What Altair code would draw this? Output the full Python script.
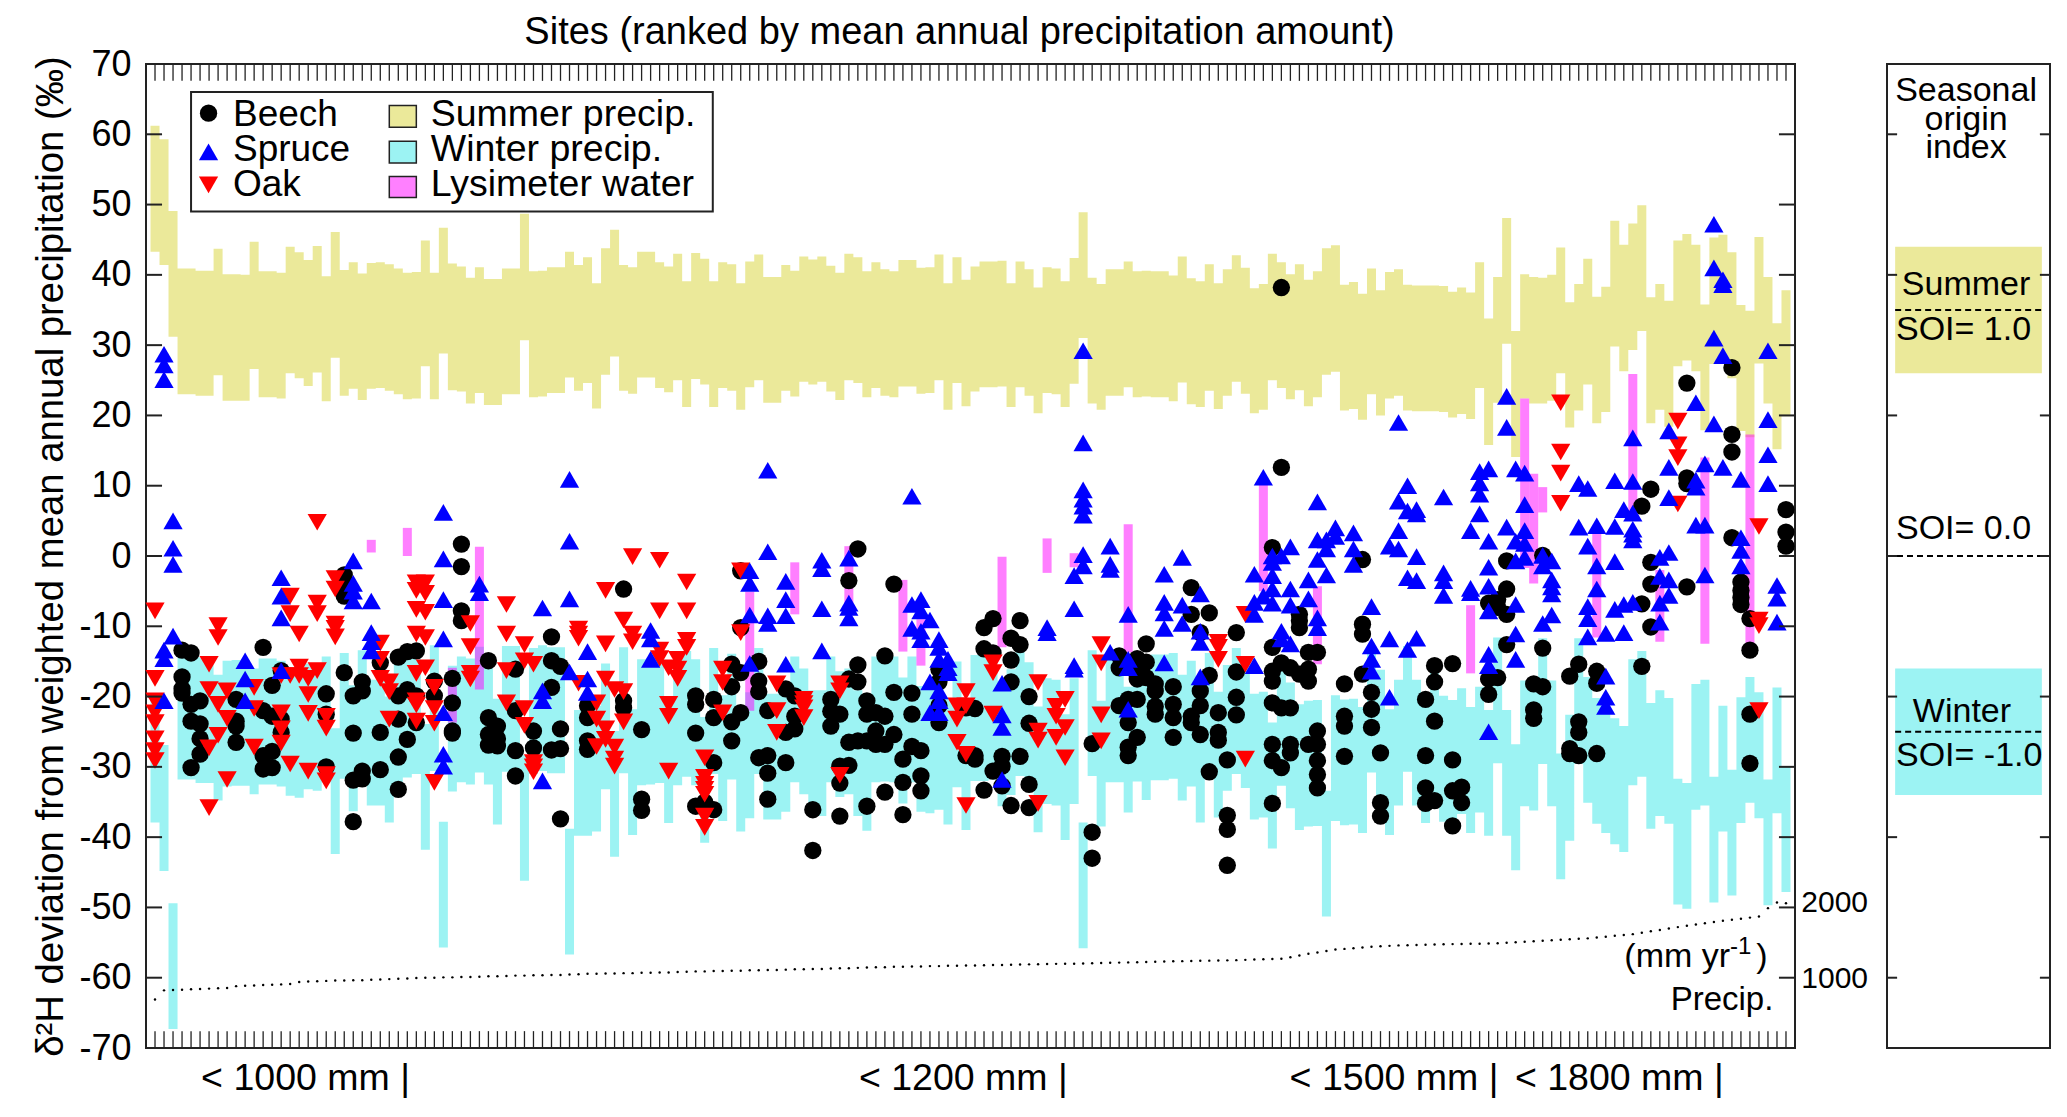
import altair as alt
import pandas as pd

FONT = "Liberation Sans"
SUMMER = "#ebe99a"
WINTER = "#9cf3f3"
LYSI = "#ff00ff"

summer_hi = [61.2,59.3,49.1,40.9,40.9,40.6,40.6,43.7,40.1,40.1,
 40,44.7,40.5,40.5,40.3,44,43.2,42.1,44.1,39.8,
 46.1,40.7,41.8,40.2,41.7,41.8,41.5,40.9,40.3,40.4,
 44.9,40.3,46.7,41.6,41.2,39.6,41.1,39.4,39.4,40.9,
 40.9,48.7,40.5,40.6,41.1,41.1,43.3,41.4,42.5,38.8,
 43.8,46.4,41.4,41.1,43.3,43.3,41.8,41.2,43,39.1,
 43.1,42.3,39.1,41.8,41.5,38.8,41.9,42.9,39.7,39.7,
 41.4,40.6,42.6,42.2,42.6,41.3,40.3,43,42.5,40.5,
 41.8,40.8,40.5,42.1,42.1,41,41.1,42.9,38.8,42.5,
 39.3,41.2,41.9,41.9,42,38.8,41.9,40.8,38.2,41.1,
 40.9,39.1,42.4,48.9,39.6,38.7,40.8,40.8,41.9,40.5,
 40.6,40.5,40.5,39.9,42.6,39.5,39.1,41.5,38.8,40.8,
 42.8,41,38.1,38.7,43,41.8,40.1,41.5,39.3,40.5,
 43.8,44.2,38.6,39,37.3,40.9,37.8,40.4,40.8,38.6,
 38.5,38.5,38.5,38.4,37.6,38.2,37.5,41.8,33.8,39.7,
 48.1,32,40.1,39.7,39.6,40,43.9,36.1,38.7,42.3,
 36.9,38.3,47.7,44.3,47.3,49.9,36.8,38.7,36.3,44.9,
 45.8,44.3,35.8,45.3,45.7,43.2,35.7,34.9,45.4,39.7,33.1,37.8]
summer_lo = [43.3,41.4,31.2,23,23,22.8,22.8,25.7,22.1,22.1,
 22.1,26.6,22.6,22.6,22.4,26,25.3,24.2,26.1,22,
 28.2,22.8,23.8,22.2,23.8,23.9,23.5,23,22.3,22.4,
 27,22.3,28.8,23.6,23.4,21.7,23.2,21.5,21.5,23,
 23,30.7,22.6,22.7,23.2,23.2,25.4,23.5,24.6,21,
 25.8,28.4,23.5,23.1,25.4,25.4,23.9,23.3,25,21.2,
 25.2,24.4,21.2,23.9,23.5,20.8,24,25,21.8,21.8,
 23.5,22.7,24.8,24.4,24.8,23.4,22.2,25,24.6,22.6,
 23.9,22.8,22.6,24.1,24.1,23.1,23.2,25,20.8,24.6,
 21.3,23.4,24,24,24.1,21.2,24,22.8,20.3,23.2,
 23,21.2,24.5,31,21.7,20.8,22.8,22.8,24,22.6,
 22.7,22.6,22.6,22,24.7,21.6,21.2,23.5,20.9,22.8,
 24.8,23.1,20.3,20.8,25,23.9,22.3,23.6,21.3,22.6,
 25.8,26.2,20.7,20.9,19.4,23,20,22.4,22.8,20.7,
 20.6,20.6,20.6,20.5,19.7,20.2,19.5,23.9,15.8,21.8,
 30.2,14.1,22.4,21.7,21.7,22.1,26,18.3,20.7,24.4,
 18.9,20.5,29.8,26.3,29.3,32,18.9,20.8,18.4,27,
 27.8,26.3,17.9,27.3,27.8,25.3,17.8,16.9,27.4,21.7,15.2,19.9]
winter_hi = [-20,-26.9,-49.4,-13.9,-13.9,-14.4,-14.4,-16.9,-14.9,-14.8,
 -14.8,-16,-14.6,-14.6,-14.9,-16.2,-16.5,-15.3,-15.5,-14.3,
 -24.5,-13.8,-18.4,-13.4,-17.6,-17.6,-20,-14.4,-13.6,-13.1,
 -23.9,-12.7,-37.8,-15.6,-14.3,-14.6,-12.9,-14.6,-20.3,-12.8,
 -12.8,-28.3,-13.1,-12.7,-13,-13,-38.8,-21.9,-21.9,-21.3,
 -15.3,-24.9,-13,-21.8,-14.7,-14.6,-14.4,-20.1,-14.7,-13.5,
 -14.7,-22.9,-13.1,-19.8,-13.9,-21.3,-19.4,-13.1,-19.6,-19.6,
 -18.5,-14.3,-16,-19.1,-19.1,-14.3,-16.4,-16,-19.1,-21.2,
 -14.3,-14.2,-14.3,-17.3,-14.3,-18.5,-18.7,-18.2,-20.3,-15,
 -21.1,-14.1,-14.1,-13.9,-17.7,-16.1,-13.4,-15.1,-21.4,-17.4,
 -17.6,-22.5,-17.4,-37.9,-13.4,-20.6,-14.3,-14.3,-18.6,-14.2,
 -16.8,-14,-14,-13.8,-16.9,-14.9,-20,-13.8,-19.3,-15.5,
 -13.1,-15.1,-19.6,-19.3,-23.7,-14.8,-18,-21.1,-20.6,-20.5,
 -33.4,-19.8,-20.4,-20.3,-21.5,-12.9,-16.2,-21.8,-17.6,-12.8,
 -17.6,-20.1,-16,-19.9,-20.5,-18.8,-21.5,-18.6,-21.9,-11.6,
 -21.9,-26.8,-17.7,-18.3,-11.7,-17.7,-28.1,-22.6,-11.7,-17.2,
 -20.2,-21.5,-23.1,-24.2,-14.7,-13.5,-20.9,-19.1,-20.2,-31.7,
 -32.3,-18.2,-17.6,-31.4,-21.3,-30.4,-20.1,-17.2,-19.4,-31.8,-18.7,-29.9]
winter_lo = [-37.9,-44.8,-67.3,-31.8,-31.8,-32.3,-32.3,-34.8,-32.8,-32.7,
 -32.7,-33.9,-32.5,-32.5,-32.8,-34.1,-34.4,-33.2,-33.4,-32.2,
 -42.4,-31.7,-36.3,-31.3,-35.5,-35.5,-37.9,-32.3,-31.5,-31,
 -41.8,-30.6,-55.7,-33.5,-32.2,-32.5,-30.8,-32.5,-38.2,-30.7,
 -30.7,-46.2,-31,-30.6,-30.9,-30.9,-56.7,-39.8,-39.8,-39.2,
 -33.2,-42.8,-30.9,-39.7,-32.6,-32.5,-32.3,-38,-32.6,-31.4,
 -32.6,-40.8,-31,-37.7,-31.8,-39.2,-37.3,-31,-37.5,-37.5,
 -36.4,-32.2,-33.9,-37,-37,-32.2,-34.3,-33.9,-37,-39.1,
 -32.2,-32.1,-32.2,-35.2,-32.2,-36.4,-36.6,-36.1,-38.2,-32.9,
 -39,-32,-32,-31.8,-35.6,-34,-31.3,-33,-39.3,-35.3,
 -35.5,-40.4,-35.3,-55.8,-31.3,-38.5,-32.2,-32.2,-36.5,-32.1,
 -34.7,-31.9,-31.9,-31.7,-34.8,-32.8,-37.9,-31.7,-37.2,-33.4,
 -31,-33,-37.5,-37.2,-41.6,-32.7,-35.9,-39,-38.5,-38.4,
 -51.3,-37.7,-38.3,-38.2,-39.4,-30.8,-34.1,-39.7,-35.5,-30.7,
 -35.5,-38,-33.9,-37.8,-38.4,-36.7,-39.4,-36.5,-39.8,-29.5,
 -39.8,-44.7,-35.6,-36.2,-29.6,-35.6,-46,-40.5,-29.6,-35.1,
 -38.1,-39.4,-41,-42.1,-32.6,-31.4,-38.8,-37,-38.1,-49.6,
 -50.2,-36.1,-35.5,-49.3,-39.2,-48.3,-38,-35.1,-37.3,-49.7,-36.6,-47.8]
precip_mm = [690,820,825,830,835,840,845,850,855,880,
 885,890,895,900,905,910,940,945,950,955,
 960,960,965,965,970,975,980,985,990,995,
 1000,1000,1005,1005,1010,1010,1015,1020,1020,1025,
 1030,1030,1035,1035,1040,1040,1045,1050,1055,1055,
 1060,1060,1065,1065,1070,1070,1075,1075,1080,1085,
 1090,1090,1095,1095,1100,1100,1105,1105,1110,1110,
 1115,1120,1120,1125,1125,1130,1135,1135,1140,1145,
 1150,1150,1155,1155,1160,1160,1165,1165,1170,1170,
 1175,1175,1178,1180,1182,1185,1187,1190,1192,1195,
 1197,1198,1200,1203,1206,1209,1212,1215,1218,1221,
 1224,1227,1230,1233,1236,1239,1241,1243,1245,1247,
 1250,1254,1258,1262,1266,1270,1290,1315,1340,1360,
 1380,1400,1410,1420,1430,1440,1447,1453,1460,1463,
 1466,1469,1472,1475,1478,1480,1482,1484,1486,1490,
 1497,1504,1511,1518,1525,1532,1539,1546,1553,1560,
 1572,1584,1596,1608,1620,1640,1660,1680,1700,1720,
 1738,1756,1774,1792,1810,1825,1840,1855,1870,1990,2070,2060]

lysi_site = [25,29,34,37,67,72,78,84,86,95,100,103,109,124,130,147,153,154,155,161,165,168,173,178]
lysi_hi = [2.3,4,-15.9,1.3,-5.1,-0.9,1.4,-3.4,-9,-0.1,2.5,0.4,4.5,10.2,-4.3,-7,22.4,11.7,9.8,3.3,25.9,-2,14,17.3]
lysi_lo = [0.5,0,-23.7,-19,-22,-8.3,-6.8,-13.6,-15.6,-13,-2.4,-1.6,-13.7,-5,-15.4,-16.7,-1.7,-3.9,6.2,-11.6,6.3,-12.2,-12.5,-12.6]

beech = {4:[-13.4,-17.2,-18.9,-19.5],5:[-13.8,-21.1,-23.5,-30.1],6:[-20.6,-23.9,-26,-28.2],
10:[-20.4,-23.5,-24.2,-26.5],13:[-13,-22,-28.4,-30.3],14:[-18.4,-22.8,-27.8,-30.1],15:[-16.3,-23.2,-25.1],
20:[-19.6,-22.5,-30],22:[-2.7,-3.8,-5.7,-16.6],23:[-19.9,-25.2,-31.9,-37.8],24:[-17.9,-19.2,-30.6,-31.7],
26:[-15.2,-25.1,-30.4],28:[-14.4,-19.9,-23.2,-28.6,-33.2],29:[-13.6,-19,-26.1],30:[-13.5,-19.9,-23.7],
32:[-17.8,-19.9],34:[-17.4,-20.9,-24.9,-25.2],35:[1.7,-1.5,-7.8,-9.2],38:[-14.9,-23,-25.4,-26.9],39:[-24.2,-26,-27],
41:[-16.1,-22,-27.7,-31.3],43:[-24.9,-27.3],45:[-11.5,-14.9,-18.7,-27.6],46:[-15.7,-24.6,-27.4,-37.4],
49:[-21.3,-23,-26.3,-27.5],53:[-4.7,-20.6,-21.6],55:[-24.7,-34.6,-36.2],61:[-19.9,-21.1,-25.2,-35.6],62:[-35],
63:[-20.4,-23,-29.4,-36.1],65:[-15.4,-18.6,-23.6,-26.3],66:[-2.1,-10.2,-16.6,-22.3],68:[-15,-17.8,-19.3,-28.7],
69:[-22,-28.4,-30.9,-34.6],71:[-18.9,-25.1,-29.4],72:[-19.9,-22.8,-24.6],74:[-36.1,-41.9],76:[-20.4,-22.1,-24.2],
77:[-22.5,-29.9,-32.3,-37],78:[-3.5,-17.5,-26.5,-29.8],79:[1,-15.5,-17.9,-26.3],80:[-20.6,-22.5,-26.3,-35.6],
81:[-22.3,-24.9,-26.8],82:[-14.2,-22.8,-26.8,-33.6],83:[-4,-19.4,-25.4],84:[-28.9,-32.2,-36.8],85:[-19.5,-22.5,-27.1],
86:[-27.7,-31.3,-33.4],88:[-16.1,-17.9,-21.3,-23.7],91:[-21.6,-28.4],92:[-21.7,-28.4,-28.9],93:[-10.2,-13.2,-33.3],
94:[-8.9,-13.8,-30.6],95:[-28.5,-29.9,-32.7],96:[-11.7,-14.8,-17.9,-35.5],97:[-9.2,-12.6,-28.5],98:[-20,-23.8,-32.5,-35.8],
105:[-26.7,-39.3,-43],108:[-14.2,-15.9,-21.3],109:[-20.4,-23.7,-27.2,-28.4],110:[-14.6,-16.1,-17,-17.5,-20.4,-25.8],
111:[-12.5,-15.1,-17.3],112:[-18.2,-19.2,-21.4,-22.5],114:[-18.6,-21.1,-23,-25.8],116:[-4.5,-8.3,-22.8,-23.7],
117:[-10.9,-19.2,-21.3,-25.4],118:[-8.1,-17,-30.7],119:[-22.3,-25.1,-26.2],120:[-29,-36.9,-38.9,-44],
121:[-10.9,-16.5,-20.1,-22.6],125:[1.2,-13,-16.4,-17.8,-20.9,-26.8,-29.1,-35.2],126:[38.2,12.6,-15.2,-21.6,-30.1],
127:[-15.9,-21.6,-26.8,-28],128:[-8.3,-9.2,-10.2,-16.8],129:[-13.7,-16.1,-17.8,-26.8],130:[-13.7,-24.9,-26.8,-29.1,-31.1,-33],
133:[-18.2,-22.8,-24.2,-28.5],135:[-0.5,-9.7,-11.1,-16.8],136:[-19.4,-21.8,-24.4],137:[-28,-35.1,-37],
142:[-20.4,-28.4,-33,-35.2],143:[-15.6,-17.9,-23.5,-34.8],145:[-15.3,-29,-33.4,-38.4],146:[-32.9,-35.1],
149:[-17.5,-19.7,-6.7],150:[-17.3,-6.2,-7.3],151:[-0.7,-4.7,-8.3,-12.6],154:[-18.2,-21.9,-23.1],155:[0.1,-13.1,-18.6],
158:[-17.1,-27.4,-28.1],159:[-15.4,-23.6,-25.1,-28.4],161:[-16.4,-18.1,-28.1],166:[7.1,-6.8,-15.7],167:[9.5,-0.9,-4,-10.1],
171:[24.6,11.1,10.3,-4.4],176:[26.8,17.3,14.8,2.6],177:[-3.7,-4.9,-5.9,-6.9],178:[-8.9,-13.4,-22.5,-29.5],182:[6.6,3.4,1.4]}

spruce = {2:[28.7,27.2,25.1,-13.4,-14.6,-20.6],3:[5,1.1,-1.2,-11.4],11:[-14.9,-17.5,-20.6],15:[-3.1,-5.7,-8.8,-16.3],
23:[-0.7,-3.9,-5,-6.4],25:[-6.4,-10.9,-12.2,-13.5],33:[6.2,-0.4,-6.2,-11.8,-22.3,-28.2,-29.9],37:[-4,-5.2],
44:[-7.4,-19.2,-20.6,-32],47:[10.9,2.1,-6.1,-16.5],49:[-13.6,-17.5,-19.4],56:[-10.6,-11.8,-14.7],67:[-2.1,-3.9,-8.4,-15.3],
69:[12.2,0.6,-8.5,-9.6],71:[-3.6,-6.2,-8.5,-15.4],75:[-0.6,-1.8,-7.5,-13.5],78:[-0.3,-6.7,-7.3,-8.8],85:[8.5,-6.9,-10.3],
86:[-6.2,-7.8,-10.7,-11.9],87:[-9.1,-17.9,-22.3],88:[-11.9,-13,-14.7,-19.2,-20.6,-22.3],89:[-14.7,-15.9,-16.6],
95:[-18.1,-22.6,-24.4,-31.8],100:[-10.2,-10.9],103:[-2.8,-7.5,-15.6,-16.1],104:[29.2,16.1,9.4,8.1,7.1,5.8,0.2,-1.4],
107:[1.4,-1.2,-1.9,-13.7],109:[-8.3,-14.7,-15.9,-21.8],113:[-2.6,-6.6,-8.1,-10.3,-15.2],115:[-0.2,-7,-9.6],
117:[-5.4,-10.7,-12.3,-17.2],123:[-2.6,-6.6,-8.3,-15.6],124:[11.2,-5.7],125:[0,-0.9,-2.8,-4.7,-6.7],126:[0,-10.7,-11.8],
127:[1.3,-4.7,-7,-12.5],129:[-3.4,-6.1],130:[7.7,2.3,-0.5,-8.8,-10.2],131:[2.3,1,-2.7],132:[4,2.8],134:[3.3,1,-1.2],
136:[-7.2,-12.8,-14.7,-16.4],138:[-20.1,-11.8,1.4],139:[19,7.8,3.6,1],140:[10,6.4,-3.1,-13.3],141:[6.6,6,-0.1,-3.5,-11.7],
144:[8.4,-2.4,-3.5,-5.6],147:[3.6,-4.6,-5.2],148:[12,10.4,8.8,6],149:[12.4,2.1,-1.6,-4.3,-7.8,-14,-15.6,-25],
151:[22.7,18.3,4.1],152:[12.4,2.1,-0.7,-6.9,-11.1,-14.7],153:[11.8,7.3,3.6,1.8,-0.2],155:[0.1,-1.4,-9.6],
156:[-0.7,-3.4,-4.4,-5.4,-8.4],159:[10.3,4.1],160:[9.6,1.4,-7.2,-8.9,-11.5],161:[4.3,-1.4,-4.7],162:[-11,-17.1,-20.1,-21.4],
163:[10.7,4.2,-0.8,-7.6],164:[6.6,-6.9,-10.9],165:[16.8,10.6,6.1,3.8,3.1,2.3,-6.6],168:[-0.2,-2.9,-6.7,-9.4],
169:[17.8,12.6,8.3,0.5,-3.4,-5.6],172:[21.8,10.8,9.8,4.4],173:[13.1,4.4,-2.7],174:[47.2,41,31,18.8],175:[39.3,38.6,28.5,12.6],
177:[10.9,2.6,0.8,-1.4],180:[29.2,19.4,14.4,10.3],181:[-4.2,-6,-9.4]}

oak = {1:[-7.8,-17.4,-20.6,-22.3,-23.7,-26,-27.7,-29.1],7:[-15.4,-19,-27.3,-35.8],8:[-9.9,-11.6,-21.1,-25.5],9:[-19.2,-23.1,-31.8],
12:[-18.7,-21.7,-27.2],15:[-17,-22.3,-24.6,-26.6],16:[-5.7,-8.2,-17,-29.6],17:[-11.1,-15.8,-17],18:[-17.4,-19.7,-22.4,-30.6],
19:[4.8,-6.7,-8.2,-16.3],20:[-22.8,-24.5,-31.1,-32],21:[-3.2,-4.7,-9.7,-10.3,-11.5],26:[-12.4,-14.7,-17.4],27:[-17.9,-19.3,-23.2],
30:[-3.8,-4.9,-7.6,-11.1,-16.7,-20.6,-21.2,-23.5],31:[-3.8,-5.3,-8,-11.6,-15.9],32:[-18.7,-21.7,-23.8,-32.2],36:[-9.6,-12.9,-16.7,-17.5],
40:[-6.9,-11.1,-16.3,-20.9],42:[-12.6,-14.9,-21.7,-24.1],43:[-15.4,-29.4,-30,-30.7],48:[-10.4,-11.1,-11.7,-18.1],50:[-20.9,-23.2,-27.1],
51:[-4.9,-12.5,-17.5,-24.6,-26.1],52:[-19,-27.2,-28.9,-29.9],53:[-9.1,-19.3,-23.6],54:[-0.1,-11.1,-12.2],57:[-0.6,-7.8,-13.4,-14.6],
58:[-15.9,-21.1,-22.8,-30.6],59:[-14.7,-16.1,-17.4],60:[-3.7,-7.8,-12,-13],62:[-28.7,-31.5,-32.5,-33.2,-33.9,-37,-38.6],
64:[-16.1,-18,-22.3],66:[-2.1,-10.9],70:[-18.2,-22,-25.1],73:[-20.4,-21,-21.6,-23],77:[-18.2,-19.2,-31.2],90:[-21.3,-23.2,-26.5],
91:[-19.3,-21.3,-28.2,-35.5],94:[-15.2,-16.6,-22.5],99:[-18,-24.9,-26.2,-35.2],101:[-21.4,-22.8,-25.8],102:[-20.4,-24.4,-28.7],
106:[-12.6,-15.2,-22.6,-26.3],119:[-12.3,-13,-14.7],122:[-8.3,-15.4,-28.9],157:[21.8,14.8,11.8,7.5],170:[19.2,15.8,14,7.4],
179:[4.2,-9.1,-9.9,-22]}

n_sites = len(summer_hi)
sites = list(range(1, n_sites + 1))
y_ticks = [v for v in range(-60, 70, 10)]
soi_ticks = [60, 40, 20, 0, -20, -40, -60]
band_labels = ["< 1000 mm |", "< 1200 mm |", "< 1500 mm |", "< 1800 mm |"]
band_x = [17.7, 90.7, 138.5, 163.5]

xs = alt.Scale(domain=[0, n_sites + 1], nice=False, zero=False)
ys = alt.Scale(domain=[-70, 70], nice=False, zero=False)
X = lambda f="x": alt.X(f"{f}:Q", scale=xs, axis=None)
PY = alt.Y("y:Q", scale=ys, title=None, axis=None)
X2 = alt.X2("x1:Q")
Y2 = alt.Y2("y1:Q")
Y = alt.Y("y:Q", scale=ys, axis=alt.Axis(
    title="δ²H deviation from weighted mean annual precipitation (‰)", titleFont=FONT, titleFontSize=38.3,
    titleFontWeight="normal", titleColor="black", titlePadding=8, labelFont=FONT, labelFontSize=36, labelColor="black",
    labelPadding=15, ticks=False, domain=False, grid=False, values=list(range(-70, 80, 10)),
    labelExpr="'' + datum.value"))


def steps(lo, hi):
    """One row per site edge, so that a stepped area draws the columns without seams."""
    edges = [s - 0.5 for s in sites] + [sites[-1] + 0.5]
    return pd.DataFrame({"x": edges, "y": lo + [lo[-1]], "y1": hi + [hi[-1]]})


def flat(d):
    return pd.DataFrame([{"x": s, "y": v} for s, vs in d.items() for v in vs])


CIRC = 300
TRI = 370
layers = []
layers.append(alt.Chart(steps(summer_lo, summer_hi)).mark_area(color=SUMMER, opacity=1, interpolate="step-after")
              .encode(x=X(), y=Y, y2=Y2))
layers.append(alt.Chart(steps(winter_lo, winter_hi)).mark_area(color=WINTER, opacity=1, interpolate="step-after")
              .encode(x=X(), y=Y, y2=Y2))
layers.append(alt.Chart(pd.DataFrame({"x": [s - 0.5 for s in lysi_site], "x1": [s + 0.5 for s in lysi_site],
                                      "y": lysi_lo, "y1": lysi_hi}))
              .mark_rect(color=LYSI, opacity=0.5).encode(x=X(), x2=X2, y=Y, y2=Y2))
layers.append(alt.Chart(pd.DataFrame({"x": sites, "y": [p / 100 - 70 for p in precip_mm]}))
              .mark_circle(color="black", size=6, opacity=1).encode(x=X(), y=Y))
layers.append(alt.Chart(flat(beech)).mark_point(shape="circle", filled=True, color="black", size=CIRC, opacity=1)
              .encode(x=X(), y=Y))
layers.append(alt.Chart(flat(oak)).mark_point(shape="triangle-down", filled=True, color="#ff0000", size=TRI, opacity=1)
              .encode(x=X(), y=Y))
layers.append(alt.Chart(flat(spruce)).mark_point(shape="triangle-up", filled=True, color="#0000ff", size=TRI, opacity=1)
              .encode(x=X(), y=Y))

# inward ticks on all four sides
tick_len_x = 1.78
tick_len_y = 2.4
side = pd.DataFrame([{"x": a, "x1": b, "y": v} for v in y_ticks
                     for a, b in ((0, tick_len_x), (n_sites + 1 - tick_len_x, n_sites + 1))])
layers.append(alt.Chart(side).mark_rule(color="#222222", strokeWidth=2).encode(x=X(), x2=X2, y=Y))
edge = pd.DataFrame([{"x": s, "y": a, "y1": b} for s in sites for a, b in ((70, 70 - tick_len_y), (-70, -70 + tick_len_y))])
layers.append(alt.Chart(edge).mark_rule(color="#222222", strokeWidth=1.3).encode(x=X(), y=Y, y2=Y2))

# legend, drawn as a box inside the plot
layers.append(alt.Chart(pd.DataFrame({"x": [5], "x1": [62.9], "y": [49], "y1": [66]}))
              .mark_rect(fill="white", stroke="#222222", strokeWidth=2).encode(x=X(), x2=X2, y=Y, y2=Y2))
legend_swatch = pd.DataFrame({"x": [27, 27, 27], "x1": [30, 30, 30], "y": [61, 55.9, 51], "y1": [64.1, 59, 54],
                              "c": [SUMMER, WINTER, "#ff80ff"]})
layers.append(alt.Chart(legend_swatch).mark_rect(stroke="#222222", strokeWidth=1.5)
              .encode(x=X(), x2=X2, y=Y, y2=Y2, fill=alt.Fill("c:N", scale=None)))
for yv, shape, col, sz in [(63, "circle", "black", CIRC), (57.5, "triangle-up", "#0000ff", TRI),
                           (52.8, "triangle-down", "#ff0000", TRI)]:
    layers.append(alt.Chart(pd.DataFrame({"x": [6.94], "y": [yv]}))
                  .mark_point(shape=shape, filled=True, color=col, size=sz, opacity=1).encode(x=X(), y=Y))


def text(x, y, labels, size=35, align="left", baseline="middle"):
    df = pd.DataFrame({"x": x, "y": y, "t": labels})
    return alt.Chart(df).mark_text(font=FONT, fontSize=size, align=align, baseline=baseline, color="black").encode(
        x=X(), y=Y, text="t:N")


layers.append(text([9.65] * 3, [62.7, 57.8, 52.8], ["Beech", "Spruce", "Oak"], size=37))
layers.append(text([31.6] * 3, [62.7, 57.8, 52.8], ["Summer precip.", "Winter precip.", "Lysimeter water"], size=37.5))
layers.append(text(band_x, [-76] * 4, band_labels, size=37.5, align="center", baseline="alphabetic"))
layers.append(text([183.7, 183.7], [-49.3, -60.2], ["2000", "1000"], size=30))
layers.append(text([175.8], [-57.1], ["(mm yr"], size=34, align="right"))
layers.append(text([175.8], [-55.6], ["-1"], size=24))
layers.append(text([178.7], [-57.1], [")"], size=34))
layers.append(text([180.6], [-63.2], ["Precip."], size=33, align="right"))

main = alt.layer(*layers).properties(
    width=1649, height=984,
    title=alt.TitleParams("Sites (ranked by mean annual precipitation amount)", font=FONT, fontSize=38,
                          fontWeight="normal", color="black", anchor="middle", dx=-11, offset=-6))

# seasonal origin index panel
ps = alt.Scale(domain=[0, 1], nice=False, zero=False)
PX = alt.X("x:Q", scale=ps, axis=None)
soi_rect = pd.DataFrame({"x": [0.05, 0.05], "x1": [0.95, 0.95], "y": [26, -34], "y1": [44, -16], "c": [SUMMER, WINTER]})
soi_rule = pd.DataFrame({"x": [0.05, 0, 0.05], "x1": [0.95, 1, 0.95], "y": [35, 0, -25]})
soi_side = pd.DataFrame([{"x": a, "x1": b, "y": v} for v in soi_ticks for a, b in ((0, 0.062), (0.938, 1))])
soi_words = pd.DataFrame({"x": [0.485, 0.485, 0.485, 0.485, 0.46], "y": [66.2, 62, 58.1, 38.6, -22.2],
                          "t": ["Seasonal", "origin", "index", "Summer", "Winter"]})
soi_vals = pd.DataFrame({"x": [0.055, 0.055, 0.055], "y": [32.2, 3.8, -28.5], "t": ["SOI= 1.0", "SOI= 0.0", "SOI= -1.0"]})
panel = alt.layer(
    alt.Chart(soi_rect).mark_rect().encode(x=PX, x2=X2, y=PY, y2=Y2, fill=alt.Fill("c:N", scale=None)),
    alt.Chart(soi_rule).mark_rule(color="black", strokeWidth=2, strokeDash=[6, 4]).encode(x=PX, x2=X2, y=PY),
    alt.Chart(soi_side).mark_rule(color="#222222", strokeWidth=2).encode(x=PX, x2=X2, y=PY),
    alt.Chart(soi_words).mark_text(font=FONT, fontSize=34, align="center", baseline="middle", color="black")
    .encode(x=PX, y=PY, text="t:N"),
    alt.Chart(soi_vals).mark_text(font=FONT, fontSize=34, align="left", baseline="middle", color="black")
    .encode(x=PX, y=PY, text="t:N"),
).properties(width=163, height=984)

chart = alt.hconcat(main, panel, spacing=92, bounds="flush").configure_view(stroke="#222222", strokeWidth=2).properties(
    background="white", padding={"left": 22, "top": 5, "right": 5, "bottom": 5})
chart.save("out.html", embed_options={"renderer": "svg", "actions": False})
